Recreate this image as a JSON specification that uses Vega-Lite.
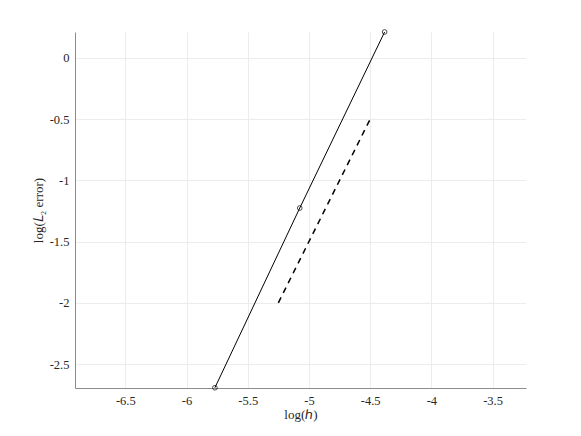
{
  "$schema": "https://vega.github.io/schema/vega-lite/v6.json",
  "autosize": "none",
  "width": 451,
  "height": 356,
  "padding": {"left": 75, "top": 32, "right": 55, "bottom": 48},
  "background": "white",
  "config": {
    "view": {"stroke": null},
    "font": "Times New Roman",
    "axis": {
      "labelFont": "Times New Roman",
      "titleFont": "Times New Roman",
      "labelFontSize": 12.5,
      "titleFontSize": 13,
      "titleFontWeight": "normal",
      "labelColor": "#262626",
      "titleColor": "#262626",
      "gridColor": "#ececec",
      "domainColor": "#8c8c8c",
      "ticks": false,
      "labelPadding": 6,
      "labelExpr": "toString(datum.value)"
    }
  },
  "datasets": {
    "err": [
      {"logh": -5.7683, "logerr": -2.694},
      {"logh": -5.0752, "logerr": -1.226},
      {"logh": -4.3820, "logerr": 0.212}
    ],
    "ref": [
      {"logh": -5.25, "logerr": -2.0},
      {"logh": -4.5, "logerr": -0.5}
    ]
  },
  "layer": [
    {
      "data": {"name": "err"},
      "mark": {"type": "line", "color": "black", "strokeWidth": 1, "clip": false},
      "encoding": {
        "x": {
          "field": "logh", "type": "quantitative",
          "scale": {"domain": [-6.911, -3.227], "nice": false, "zero": false},
          "axis": {"values": [-6.5, -6, -5.5, -5, -4.5, -4, -3.5], "title": "log(ℎ)", "titlePadding": 2}
        },
        "y": {
          "field": "logerr", "type": "quantitative",
          "scale": {"domain": [-2.696, 0.212], "nice": false, "zero": false},
          "axis": {"values": [-2.5, -2, -1.5, -1, -0.5, 0], "title": "log(𝐿₂ error)", "titlePadding": 4}
        }
      }
    },
    {
      "data": {"name": "err"},
      "mark": {"type": "point", "shape": "circle", "filled": false, "color": "black", "size": 22, "strokeWidth": 1, "clip": false},
      "encoding": {
        "x": {"field": "logh", "type": "quantitative"},
        "y": {"field": "logerr", "type": "quantitative"}
      }
    },
    {
      "data": {"name": "ref"},
      "mark": {"type": "line", "color": "black", "strokeWidth": 1.5, "strokeDash": [6, 5]},
      "encoding": {
        "x": {"field": "logh", "type": "quantitative"},
        "y": {"field": "logerr", "type": "quantitative"}
      }
    }
  ]
}
